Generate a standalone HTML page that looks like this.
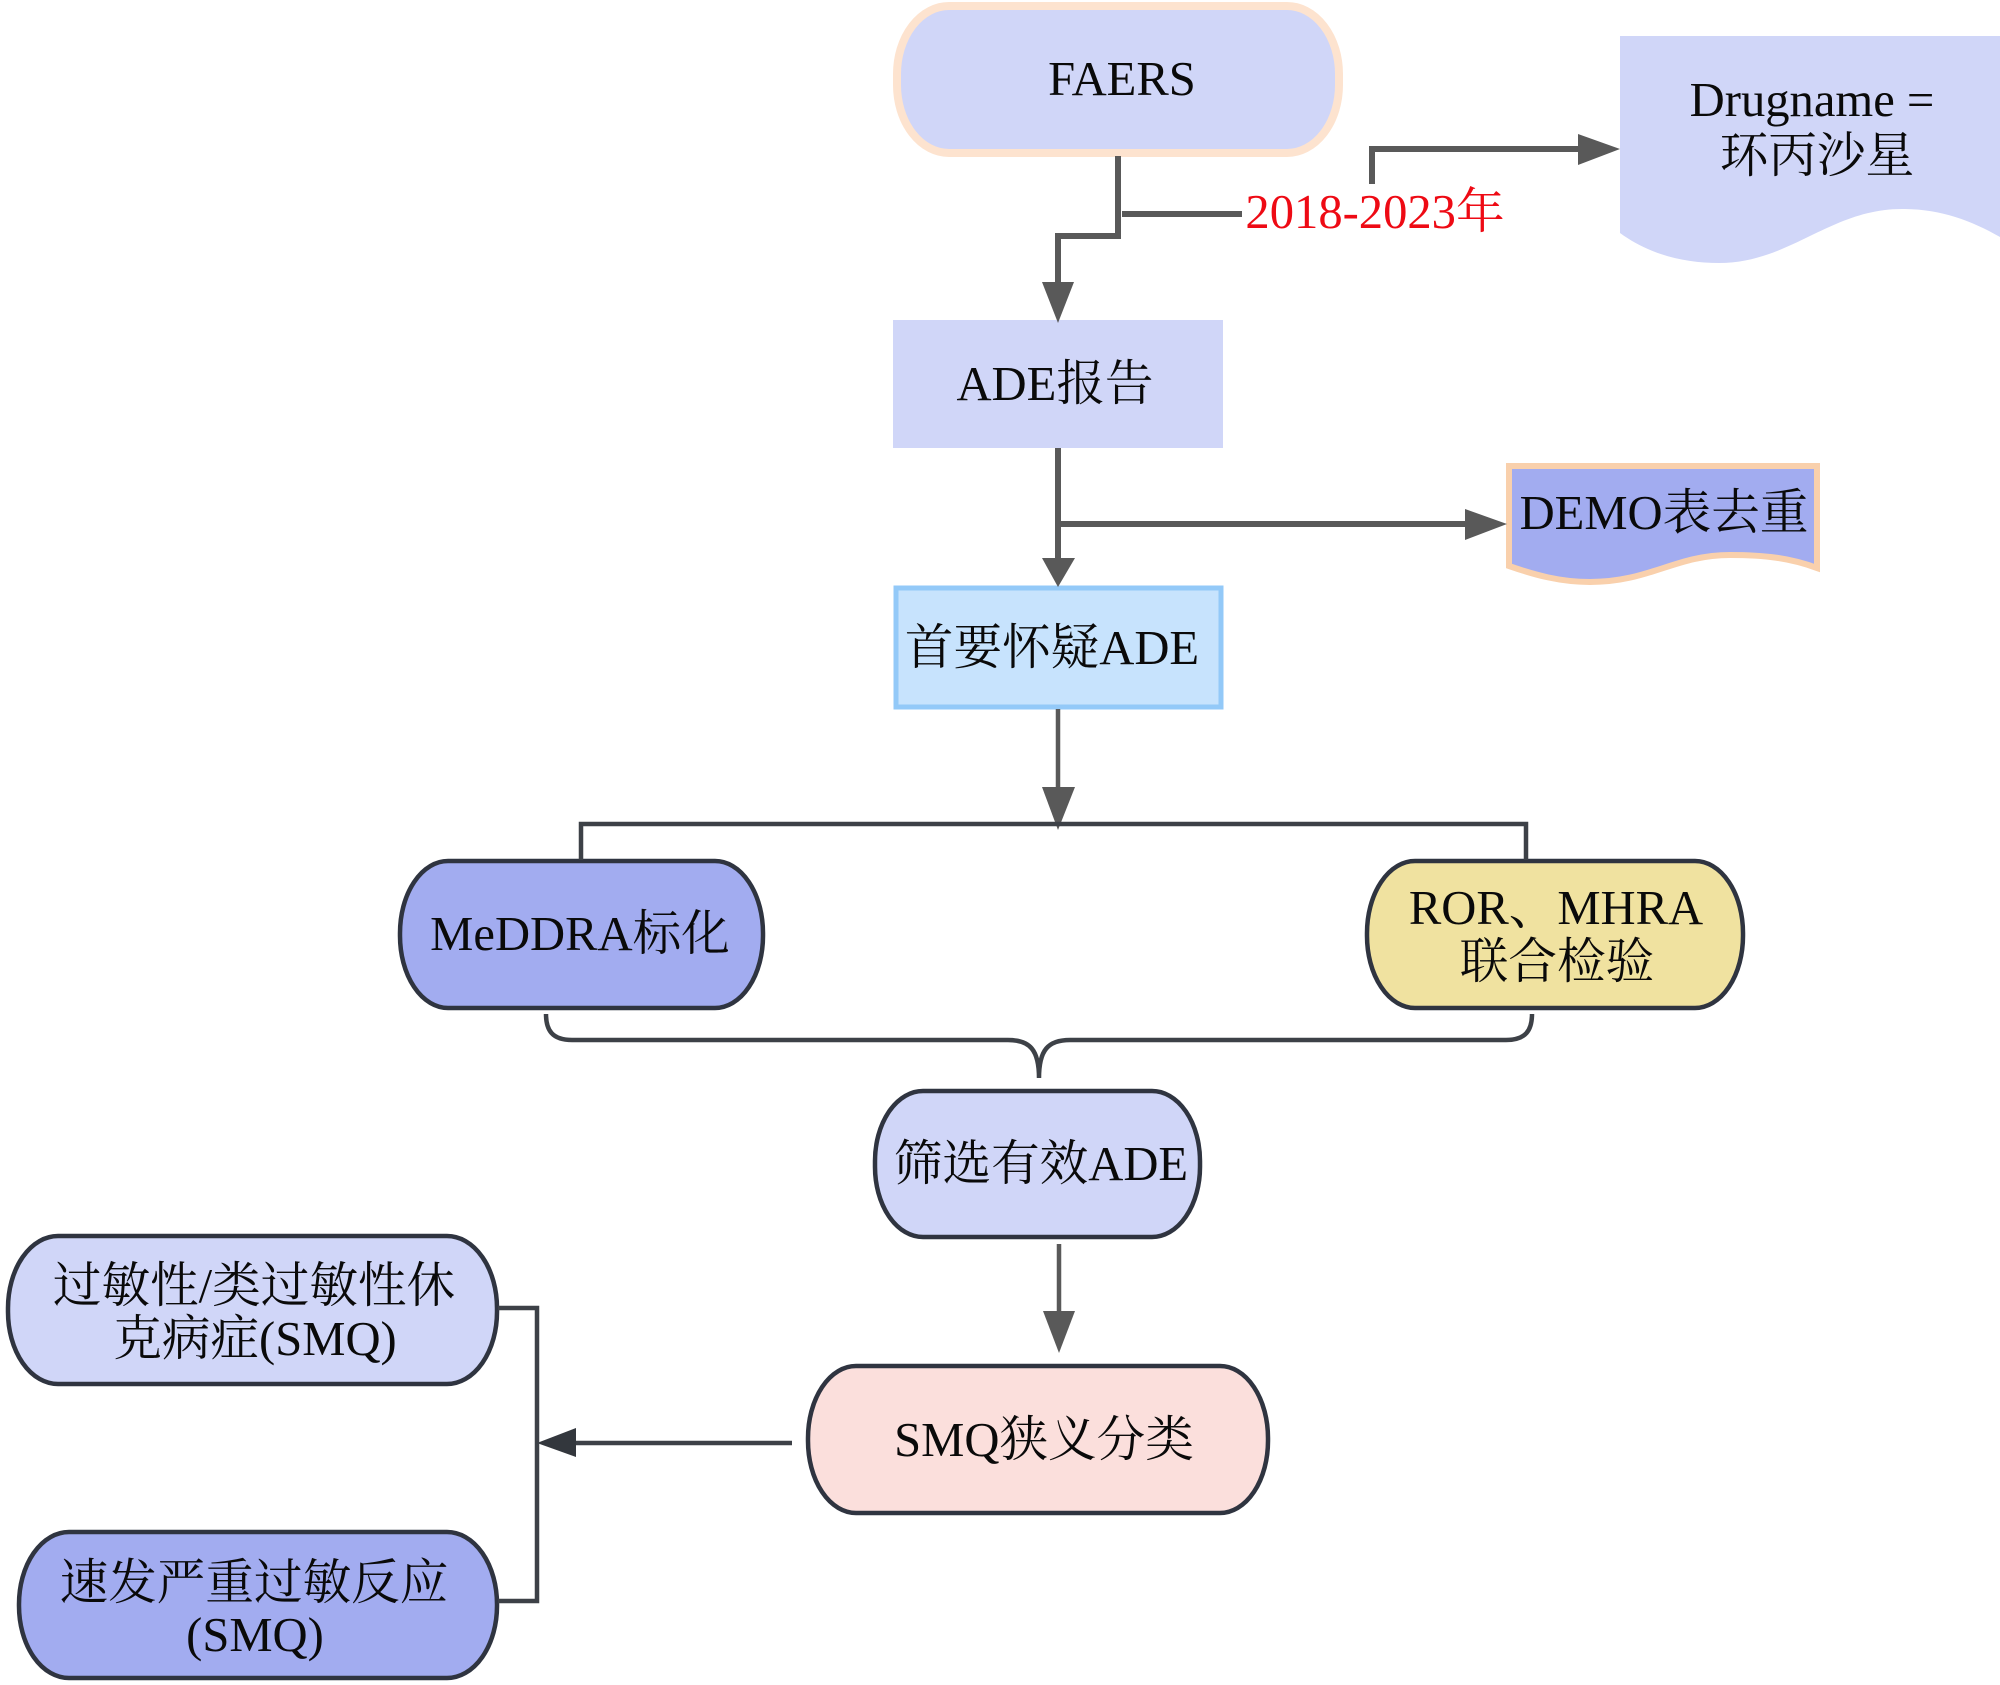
<!DOCTYPE html>
<html lang="zh">
<head>
<meta charset="utf-8">
<title>FAERS flow diagram</title>
<style>
html,body{margin:0;padding:0;background:#fff;width:2000px;height:1685px;overflow:hidden}
svg{display:block}
text{font-family:"Liberation Serif","Noto Serif CJK SC",serif;font-size:48.6px;fill:#0a0a0a;text-anchor:middle}
.g{fill:none;stroke:#595959;stroke-width:6}
.d{fill:none;stroke:#3d4147;stroke-width:4.5}
.n{stroke:#2f3440;stroke-width:4.5}
</style>
</head>
<body>
<svg width="2000" height="1685" viewBox="0 0 2000 1685" xmlns="http://www.w3.org/2000/svg">
<!-- nodes -->
<rect x="897" y="6" width="442" height="147" rx="52" ry="68" fill="#d0d6f8" stroke="#fde3cf" stroke-width="8"/>
<path d="M1620 36H2000V237C1970 220 1940 209 1902 209C1830 209 1790 263 1719 263C1685 263 1650 255 1620 233Z" fill="#d0d6f8"/>
<rect x="893" y="320" width="330" height="128" fill="#d0d6f8"/>
<path d="M1509 466H1817V568C1790 558 1765 555 1730 555C1675 555 1650 582 1590 582C1560 582 1535 575 1509 566Z" fill="#a2acf0" stroke="#f9d0ac" stroke-width="6"/>
<rect x="896" y="588" width="325" height="119" fill="#c7e3fd" stroke="#93c9f8" stroke-width="5"/>
<rect x="400" y="861" width="363" height="147" rx="48" ry="72" fill="#a2acf0" class="n"/>
<rect x="1367" y="861" width="376" height="147" rx="48" ry="72" fill="#f0e2a0" class="n"/>
<rect x="875" y="1091" width="325" height="146" rx="48" ry="70" fill="#d0d6f8" class="n"/>
<rect x="808" y="1366" width="460" height="147" rx="48" ry="72" fill="#fbdfdc" class="n"/>
<rect x="8" y="1236" width="489" height="148" rx="50" ry="72" fill="#d0d6f8" class="n"/>
<rect x="19" y="1532" width="478" height="146" rx="50" ry="72" fill="#a2acf0" class="n"/>

<!-- connectors -->
<path class="g" d="M1118 156V236H1058V285"/>
<path class="g" d="M1122 214H1242"/>
<path class="g" d="M1372 184V149H1580"/>
<path fill="#595959" d="M1042 282H1074L1058 323Z"/>
<path fill="#595959" d="M1578 134L1620 149L1578 165Z"/>

<path class="g" d="M1058 448V560"/>
<path class="g" d="M1060 524H1468"/>
<path fill="#595959" d="M1042 558H1075L1058 587Z"/>
<path fill="#595959" d="M1465 509L1507 524L1465 540Z"/>

<path class="g" style="stroke-width:4.5" d="M1058 709V790"/>
<path fill="#595959" d="M1042 787H1075L1058 830Z"/>
<path class="d" d="M581 860V824H1526V860"/>

<path class="d" d="M546 1014C546 1030 552 1040 572 1040H1008C1030 1040 1039 1050 1039 1078C1039 1050 1048 1040 1070 1040H1506C1526 1040 1532 1030 1532 1014"/>

<path class="g" style="stroke-width:4.5" d="M1059 1244V1315"/>
<path fill="#595959" d="M1043 1311H1075L1059 1353Z"/>

<path class="d" d="M792 1443H570"/>
<path fill="#33373d" d="M576 1428V1457L537 1443Z"/>
<path class="d" d="M498 1308H537V1601H498"/>

<!-- labels -->
<text x="1122" y="95">FAERS</text>
<text x="1812" y="116">Drugname =</text>
<text x="1817" y="172">环丙沙星</text>
<text x="1375" y="228" style="fill:#ee0a14">2018-2023年</text>
<text x="1055" y="400">ADE报告</text>
<text x="1664" y="529">DEMO表去重</text>
<text x="1052" y="664">首要怀疑ADE</text>
<text x="580" y="950">MeDDRA标化</text>
<text x="1556" y="924">ROR、MHRA</text>
<text x="1557" y="978">联合检验</text>
<text x="1041" y="1180">筛选有效ADE</text>
<text x="1044" y="1456">SMQ狭义分类</text>
<text x="254" y="1302">过敏性/类过敏性休</text>
<text x="255" y="1355">克病症(SMQ)</text>
<text x="254" y="1599">速发严重过敏反应</text>
<text x="255" y="1651">(SMQ)</text>
</svg>
</body>
</html>
